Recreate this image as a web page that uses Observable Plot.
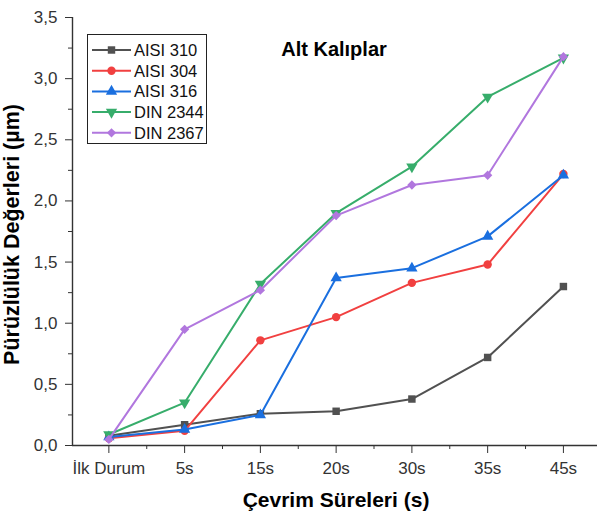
<!DOCTYPE html>
<html>
<head>
<meta charset="utf-8">
<script src="https://cdn.jsdelivr.net/npm/d3@7"></script>
<script src="https://cdn.jsdelivr.net/npm/@observablehq/plot@0.6"></script>
<style>
  html, body { margin: 0; padding: 0; background: #fff; }
  #wrap { position: relative; width: 597px; height: 514px; font-family: Arial, "Liberation Sans", sans-serif; }
  #legend { position: absolute; left: 87px; top: 34px; width: 120px; height: 110px; border: 1px solid #222; background: #fff; box-sizing: border-box; }
</style>
</head>
<body>
<div id="wrap"><div id="legend"></div></div>
<script>
const categories = ["İlk Durum", "5s", "15s", "20s", "30s", "35s", "45s"];
const seriesNames = ["AISI 310", "AISI 304", "AISI 316", "DIN 2344", "DIN 2367"];
const aisi310 = [0.08, 0.17, 0.26, 0.28, 0.38, 0.72, 1.30];
const aisi304 = [0.06, 0.12, 0.86, 1.05, 1.33, 1.48, 2.22];
const aisi316 = [0.07, 0.13, 0.25, 1.37, 1.45, 1.71, 2.21];
const din2344 = [0.09, 0.35, 1.32, 1.90, 2.28, 2.85, 3.17];
const din2367 = [0.05, 0.95, 1.27, 1.88, 2.13, 2.21, 3.18];
const seriesColors = ["#515151", "#F14040", "#1A6FDF", "#37AD6B", "#B177DE"];
const yTicks = [0, 0.5, 1.0, 1.5, 2.0, 2.5, 3.0, 3.5];
const chartTitle = "Alt Kalıplar";
const xTitle = "Çevrim Süreleri (s)";
const yTitle = "Pürüzlülük Değerleri (µm)";

const triangleDown = {
  draw(context, size) {
    const s3 = Math.sqrt(3);
    const y = -Math.sqrt(size / (s3 * 3));
    context.moveTo(0, -y * 2);
    context.lineTo(-s3 * y, y);
    context.lineTo(s3 * y, y);
    context.closePath();
  }
};
const symbols = ["square", "circle", "triangle", triangleDown, "diamond2"];
const d3symbols = [d3.symbolSquare, d3.symbolCircle, d3.symbolTriangle, triangleDown, d3.symbolDiamond2];
const valuesList = [aisi310, aisi304, aisi316, din2344, din2367];

const series = seriesNames.map((name, k) => ({
  name, color: seriesColors[k], symbol: symbols[k],
  rows: valuesList[k].map((v, i) => ({i, v, cat: categories[i]}))
}));

const xDomain = [-0.48, 6.45];
const minorX = d3.range(0, 6).map(i => i + 0.5);
const minorY = d3.range(0, 7).map(i => i * 0.5 + 0.25);
const fmt = d => d.toFixed(1).replace(".", ",");
const font = 'Arial, "Liberation Sans", sans-serif';

const marks = [
  Plot.axisY({ticks: yTicks, tickFormat: fmt, tickSize: 7, tickPadding: 8, fontSize: 17, color: "#333", label: null}),
  Plot.axisY({ticks: minorY, tickFormat: () => "", tickSize: 4, color: "#333", label: null}),
  Plot.axisX({ticks: d3.range(7), tickFormat: i => categories[i], tickSize: 8, tickPadding: 8, fontSize: 17, color: "#333", label: null}),
  Plot.axisX({ticks: minorX, tickFormat: () => "", tickSize: 4, color: "#333", label: null}),
  Plot.ruleX([xDomain[0]], {stroke: "#333", strokeWidth: 1.4}),
  Plot.ruleY([0], {stroke: "#333", strokeWidth: 1.4}),
];
for (const s of series) {
  marks.push(Plot.line(s.rows, {x: "i", y: "v", stroke: s.color, strokeWidth: 2}));
  marks.push(Plot.dot(s.rows, {x: "i", y: "v", fill: s.color, stroke: "none", symbol: s.symbol, r: 4.2}));
}
marks.push(
  Plot.text([chartTitle], {frameAnchor: "top", dy: 38, dx: -1, lineAnchor: "bottom", fontSize: 20, fontWeight: "bold", fill: "#000"}),
  Plot.text([xTitle], {frameAnchor: "bottom", dy: 61, dx: 1, lineAnchor: "bottom", fontSize: 21, fontWeight: "bold", fill: "#000"}),
  Plot.text([yTitle], {frameAnchor: "left", dx: -54, dy: 3, rotate: -90, textAnchor: "middle", lineAnchor: "bottom", fontSize: 21.5, fontWeight: "bold", fill: "#000"})
);

const chart = Plot.plot({
  width: 597, height: 514,
  marginLeft: 72, marginRight: 0, marginTop: 17, marginBottom: 69,
  x: {type: "linear", domain: xDomain},
  y: {domain: [0, 3.5]},
  style: {fontFamily: font, background: "#fff", overflow: "visible"},
  marks
});
document.getElementById("wrap").insertBefore(chart, document.getElementById("legend"));

// Legend
const legend = d3.select("#legend");
const lsvg = legend.append("svg").attr("width", 118).attr("height", 108).style("position", "absolute").style("left", "0").style("top", "0");
seriesNames.forEach((name, k) => {
  const cy = 15 + k * 20.7;
  lsvg.append("line").attr("x1", 4).attr("x2", 43).attr("y1", cy).attr("y2", cy).attr("stroke", seriesColors[k]).attr("stroke-width", 2);
  lsvg.append("path").attr("d", d3.symbol(d3symbols[k], Math.PI * 4.2 * 4.2)()).attr("transform", `translate(23.5,${cy})`).attr("fill", seriesColors[k]);
  lsvg.append("text").attr("x", 46).attr("y", cy).attr("dy", "0.36em").attr("font-size", 16.5).attr("font-family", font).attr("fill", "#111").text(name);
});
</script>
</body>
</html>
